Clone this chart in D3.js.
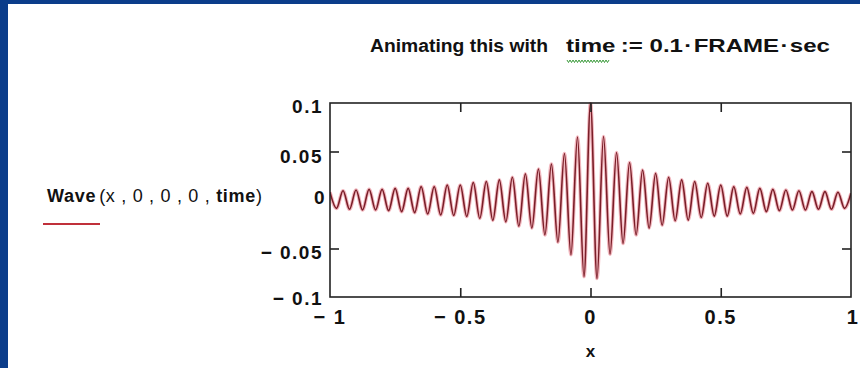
<!DOCTYPE html>
<html><head><meta charset="utf-8">
<script src="https://cdn.jsdelivr.net/npm/d3@7"></script>
<style>html,body{margin:0;padding:0;background:#0b3d8a;}svg{display:block;}</style>
</head><body>
<svg id="c" width="860" height="368"></svg>
<script>
// Extrema of the plotted wave
const peakX = [-1,-0.95,-0.9,-0.85,-0.8,-0.75,-0.7,-0.65,-0.6,-0.55,-0.5,-0.45,-0.4,-0.35,-0.3,-0.25,-0.2,-0.15,-0.1,-0.05,0,0.05,0.1,0.15,0.2,0.25,0.3,0.35,0.4,0.45,0.5,0.55,0.6,0.65,0.7,0.75,0.8,0.85,0.9,0.95,1];
const peakY = [0.008,0.0096,0.0103,0.011,0.011,0.012,0.012,0.0138,0.0138,0.0155,0.0155,0.018,0.019,0.0207,0.0235,0.027,0.032,0.037,0.048,0.065,0.1,0.0655,0.049,0.0386,0.031,0.0276,0.0235,0.0207,0.019,0.0173,0.0155,0.0138,0.013,0.012,0.011,0.0103,0.0096,0.0086,0.0086,0.008,0.007];
const troughX = [-0.975,-0.925,-0.875,-0.825,-0.775,-0.725,-0.675,-0.625,-0.575,-0.525,-0.475,-0.425,-0.375,-0.325,-0.275,-0.225,-0.175,-0.125,-0.075,-0.025,0.025,0.075,0.125,0.175,0.225,0.275,0.325,0.375,0.425,0.475,0.525,0.575,0.625,0.675,0.725,0.775,0.825,0.875,0.925,0.975];
const troughY = [-0.0086,-0.0096,-0.0103,-0.0103,-0.011,-0.012,-0.013,-0.0145,-0.0155,-0.016,-0.017,-0.019,-0.021,-0.0225,-0.027,-0.029,-0.036,-0.0435,-0.0565,-0.079,-0.081,-0.056,-0.0449,-0.036,-0.029,-0.026,-0.0214,-0.0207,-0.018,-0.0166,-0.0166,-0.0145,-0.0138,-0.012,-0.011,-0.0103,-0.0103,-0.0096,-0.0096,-0.0086];
const xTicks = [-1,-0.5,0,0.5,1];
const xTickLabels = ["\u2212 1","\u2212 0.5","0","0.5","1"];
const yTicks = [0.1,0.05,0,-0.05,-0.1];
const yTickLabels = ["0.1","0.05","0","\u2212 0.05","\u2212 0.1"];

const svg = d3.select("#c");
svg.append("rect").attr("x",8).attr("y",4).attr("width",852).attr("height",364).attr("fill","#fff");

const L=330, R=851, T=103, B=297;
const x = d3.scaleLinear().domain([-1,1]).range([L,R]);
const y = d3.scaleLinear().domain([-0.1,0.1]).range([B,T]);

const pts = peakX.map((v,i)=>[v,peakY[i]]).concat(troughX.map((v,i)=>[v,troughY[i]])).sort((a,b)=>a[0]-b[0]);
const line = d3.line().x(d=>x(d[0])).y(d=>y(d[1])).curve(d3.curveMonotoneX);

svg.append("clipPath").attr("id","clp").append("rect").attr("x",L).attr("y",T-1).attr("width",R-L).attr("height",B-T+2);
const g = svg.append("g").attr("clip-path","url(#clp)");
g.append("path").attr("d",line(pts)).attr("fill","none").attr("stroke","#f2b8bf").attr("stroke-width",3.6);
g.append("path").attr("d",line(pts)).attr("fill","none").attr("stroke","#7a1e28").attr("stroke-width",1.6);

// axes via d3 (inward ticks)
const fr = svg.append("g");
fr.append("g").attr("transform",`translate(0,${B})`).call(d3.axisBottom(x).tickValues(xTicks.slice(1,-1)).tickSize(-9).tickFormat(""));
fr.append("g").attr("transform",`translate(0,${T})`).call(d3.axisTop(x).tickValues(xTicks.slice(1,-1)).tickSize(-9).tickFormat(""));
fr.append("g").attr("transform",`translate(${L},0)`).call(d3.axisLeft(y).tickValues([0.05,-0.05]).tickSize(-9).tickFormat(""));
fr.append("g").attr("transform",`translate(${R},0)`).call(d3.axisRight(y).tickValues([0.05,-0.05]).tickSize(-9).tickFormat(""));
fr.selectAll(".domain").remove();
fr.selectAll("line").attr("stroke","#222").attr("stroke-width",1.6);
svg.append("rect").attr("x",L).attr("y",T).attr("width",R-L).attr("height",B-T).attr("fill","none").attr("stroke","#222").attr("stroke-width",1.6);

const font = "Liberation Sans, Arial, sans-serif";
// y labels
svg.selectAll(".yl").data(yTicks).enter().append("text")
  .attr("x",d=>d===0?326:323).attr("y",(d,i)=>y(d)+[10,11,4,10,8][i])
  .attr("text-anchor","end").attr("font-family",font).attr("font-weight","bold").attr("font-size",19)
  .attr("letter-spacing",1.5).attr("fill","#111").text((d,i)=>yTickLabels[i]);
// x labels
svg.selectAll(".xl").data(xTicks).enter().append("text")
  .attr("x",d=>x(d)+(d===1?2:0)).attr("y",324)
  .attr("text-anchor","middle").attr("font-family",font).attr("font-weight","bold").attr("font-size",20)
  .attr("letter-spacing",1.5).attr("fill","#111").text((d,i)=>xTickLabels[i]);
// x axis title
svg.append("text").attr("x",x(0)).attr("y",357).attr("text-anchor","middle").attr("font-family",font).attr("font-weight","bold").attr("font-size",17).attr("fill","#111").text("x");

// legend
const lg = svg.append("text").attr("x",47).attr("y",202).attr("font-family",font).attr("font-size",18).attr("fill","#111")
  .attr("textLength",215).attr("lengthAdjust","spacing");
lg.append("tspan").attr("font-weight","bold").text("Wave");
lg.append("tspan").attr("dx",3).text("(x , 0 , 0 , 0 , ");
lg.append("tspan").attr("font-weight","bold").text("time");
lg.append("tspan").text(")");
svg.append("line").attr("x1",43).attr("x2",100).attr("y1",224).attr("y2",224).attr("stroke","#c0303a").attr("stroke-width",2);

// title
svg.append("text").attr("x",370).attr("y",52).attr("font-family",font).attr("font-weight","bold").attr("font-size",18).attr("fill","#111")
  .attr("textLength",178).attr("lengthAdjust","spacingAndGlyphs").text("Animating this with");
const t2 = svg.append("text").attr("x",566).attr("y",52).attr("font-family",font).attr("font-weight","bold").attr("font-size",18).attr("fill","#111")
  .attr("textLength",264).attr("lengthAdjust","spacingAndGlyphs");
t2.append("tspan").text("time");
t2.append("tspan").attr("dx",4).text(":= 0.1");
t2.append("tspan").attr("dx",1).text("\u00b7");
t2.append("tspan").attr("dx",1).text("FRAME");
t2.append("tspan").attr("dx",1).text("\u00b7");
t2.append("tspan").attr("dx",1).text("sec");
// green squiggle under "time"
let sq = "M567,60";
for (let i=0;i<14;i++){ sq += ` l1.5,2.5 l1.5,-2.5`; }
svg.append("path").attr("d",sq).attr("fill","none").attr("stroke","#3a9a3a").attr("stroke-width",1);
</script>
</body></html>
